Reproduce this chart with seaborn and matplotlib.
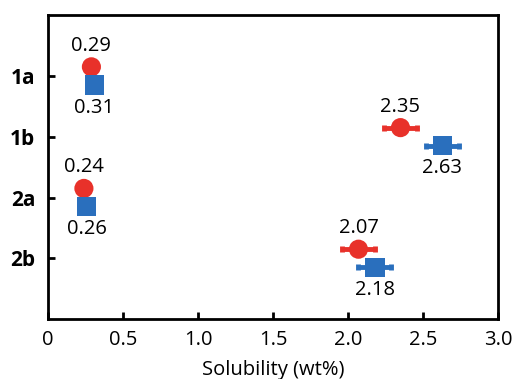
import matplotlib
matplotlib.use("Agg")
import matplotlib.pyplot as plt
import seaborn as sns
import pandas as pd

categories = ["1a", "1b", "2a", "2b"]
red_values = [0.29, 2.35, 0.24, 2.07]
blue_values = [0.31, 2.63, 0.26, 2.18]
red_err = [0.0, 0.11, 0.0, 0.11]
blue_err = [0.0, 0.11, 0.0, 0.11]
x_ticks = [0, 0.5, 1.0, 1.5, 2.0, 2.5, 3.0]
x_tick_labels = ["0", "0.5", "1.0", "1.5", "2.0", "2.5", "3.0"]

RED = "#E8312A"
BLUE = "#2A6FBD"
OFF = 0.15
FS = 14.5

sns.set_theme(style="white")
plt.rcParams["font.family"] = ["Open Sans", "DejaVu Sans"]
plt.rcParams["text.color"] = "black"
plt.rcParams["xtick.color"] = "black"
plt.rcParams["ytick.color"] = "black"
plt.rcParams["axes.labelcolor"] = "black"

fig = plt.figure(figsize=(5.15, 3.79), dpi=100)
ax = fig.add_axes([0.093, 0.158, 0.874, 0.802])

pos = {c: i + 1 for i, c in enumerate(categories)}
df = pd.DataFrame({
    "cat": categories * 2,
    "val": red_values + blue_values,
    "err": red_err + blue_err,
    "series": ["red"] * 4 + ["blue"] * 4,
})
df["y"] = [pos[c] + (-OFF if s == "red" else OFF) for c, s in zip(df["cat"], df["series"])]

for s, col in [("red", RED), ("blue", BLUE)]:
    d = df[df["series"] == s]
    ax.errorbar(d["val"], d["y"], xerr=d["err"], fmt="none", ecolor=col,
                elinewidth=3.5, capsize=2.5, capthick=3.5, zorder=2)

sns.scatterplot(data=df, x="val", y="y", hue="series", style="series",
                markers={"red": "o", "blue": "s"},
                palette={"red": RED, "blue": BLUE},
                s=190, linewidth=0, legend=False, ax=ax, zorder=3)

for _, r in df.iterrows():
    if r["series"] == "red":
        ax.annotate(f"{r['val']:.2f}", (r["val"], r["y"]), xytext=(0, 8),
                    textcoords="offset points", ha="center", va="bottom", fontsize=FS)
    else:
        ax.annotate(f"{r['val']:.2f}", (r["val"], r["y"]), xytext=(0, -9),
                    textcoords="offset points", ha="center", va="top", fontsize=FS)

ax.set_xlim(0, 3.0)
ax.set_ylim(5, 0)
ax.set_xticks(x_ticks)
ax.set_xticklabels(x_tick_labels, fontsize=FS)
ax.set_yticks([pos[c] for c in categories])
ax.set_yticklabels(categories, fontsize=15, fontweight="bold")
ax.set_xlabel("Solubility (wt%)", fontsize=FS, labelpad=7)
ax.set_ylabel("")
ax.tick_params(axis="both", direction="in", length=5, width=2, color="black",
               bottom=True, left=True)
ax.tick_params(axis="x", pad=8)
ax.tick_params(axis="y", pad=9)
for sp in ax.spines.values():
    sp.set_linewidth(2)
    sp.set_color("black")
    sp.set_visible(True)

fig.savefig("out.png", dpi=100)
